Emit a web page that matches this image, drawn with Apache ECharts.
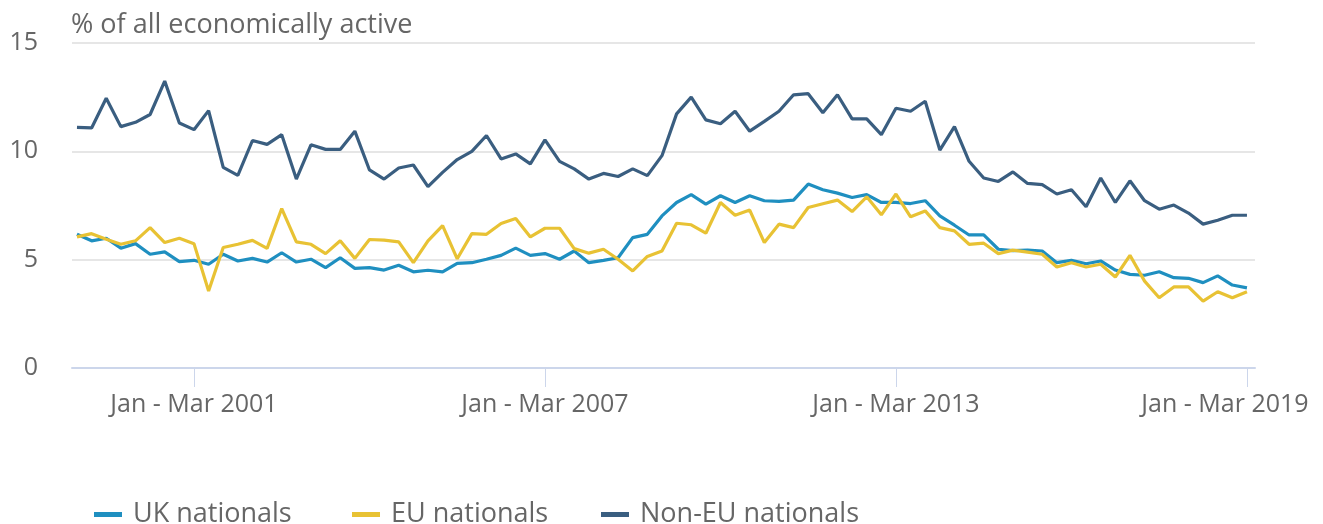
<!DOCTYPE html>
<html>
<head>
<meta charset="utf-8">
<script src="https://cdn.jsdelivr.net/npm/echarts@6/dist/echarts.min.js"></script>
<style>
html,body{margin:0;padding:0;background:#fff;}
#chart{width:1323px;height:524px;}
</style>
</head>
<body>
<div id="chart"></div>
<script>
// Quarterly periods Jan - Mar 1999 ... Jan - Mar 2019 (81 quarters)
const quarterNames = ["Jan - Mar", "Apr - Jun", "Jul - Sep", "Oct - Dec"];
const categories = [];
for (let y = 1999; y <= 2019; y++) {
  for (let q = 0; q < 4; q++) {
    if (y === 2019 && q > 0) break;
    categories.push(quarterNames[q] + " " + y);
  }
}
const tickLabels = ["Jan - Mar 2001", "Jan - Mar 2007", "Jan - Mar 2013", "Jan - Mar 2019"];
const seriesNames = ["UK nationals", "EU nationals", "Non-EU nationals"];

const ukNationals = [
  6.17, 5.87, 5.99, 5.53, 5.74, 5.25, 5.36, 4.91, 4.97, 4.79,
  5.25, 4.94, 5.06, 4.89, 5.32, 4.89, 5.02, 4.63, 5.09, 4.60,
  4.63, 4.52, 4.74, 4.44, 4.51, 4.44, 4.83, 4.86, 5.02, 5.20,
  5.53, 5.20, 5.28, 5.02, 5.40, 4.86, 4.97, 5.09, 6.02, 6.17,
  7.02, 7.64, 8.00, 7.56, 7.95, 7.64, 7.95, 7.72, 7.69, 7.75,
  8.49, 8.23, 8.07, 7.87, 8.00, 7.64, 7.64, 7.59, 7.72, 7.02,
  6.59, 6.14, 6.14, 5.48, 5.42, 5.44, 5.40, 4.86, 4.97, 4.81,
  4.94, 4.52, 4.32, 4.28, 4.44, 4.17, 4.14, 3.94, 4.25, 3.83,
  3.70
];
const euNationals = [
  6.05, 6.20, 5.94, 5.71, 5.87, 6.48, 5.79, 5.99, 5.74, 3.55,
  5.56, 5.71, 5.89, 5.52, 7.36, 5.82, 5.71, 5.28, 5.87, 5.06,
  5.93, 5.90, 5.82, 4.86, 5.87, 6.57, 5.04, 6.20, 6.17, 6.67,
  6.90, 6.05, 6.45, 6.45, 5.51, 5.30, 5.48, 5.02, 4.48, 5.15,
  5.40, 6.68, 6.61, 6.22, 7.64, 7.05, 7.29, 5.79, 6.64, 6.48,
  7.41, 7.58, 7.75, 7.22, 7.90, 7.07, 8.03, 6.98, 7.25, 6.48,
  6.33, 5.71, 5.76, 5.28, 5.44, 5.35, 5.25, 4.66, 4.86, 4.66,
  4.79, 4.20, 5.20, 4.01, 3.24, 3.74, 3.74, 3.09, 3.52, 3.24,
  3.52
];
const nonEuNationals = [
  11.11, 11.08, 12.45, 11.14, 11.34, 11.70, 13.24, 11.31, 11.00, 11.88,
  9.26, 8.89, 10.50, 10.32, 10.77, 8.72, 10.30, 10.09, 10.09, 10.93,
  9.14, 8.72, 9.23, 9.37, 8.37, 9.03, 9.62, 10.00, 10.73, 9.65,
  9.88, 9.42, 10.53, 9.54, 9.19, 8.72, 8.98, 8.84, 9.19, 8.88,
  9.80, 11.73, 12.50, 11.45, 11.27, 11.85, 10.93, 11.38, 11.85, 12.61,
  12.66, 11.78, 12.61, 11.50, 11.50, 10.77, 11.99, 11.85, 12.31, 10.06,
  11.14, 9.54, 8.77, 8.61, 9.05, 8.52, 8.46, 8.03, 8.23, 7.44,
  8.77, 7.64, 8.64, 7.72, 7.33, 7.52, 7.15, 6.64, 6.82, 7.05,
  7.05
];

const tickIdx = tickLabels.map(t => categories.indexOf(t));
const toPairs = arr => arr.map((v, i) => [i, v]);

const FONT = "'Open Sans', 'Noto Sans', sans-serif";
const TXT = '#666666';
const COLORS = ['#1f8fc0', '#e8c234', '#3a5e80'];
const legendLefts = [89, 347, 596];

const legendBase = {
  top: 496,
  itemWidth: 28,
  itemHeight: 5,
  icon: 'rect',
  textStyle: {fontFamily: FONT, fontSize: 27, color: TXT, padding: [0, 0, 0, 6]}
};

const chart = echarts.init(document.getElementById('chart'), null, {renderer: 'canvas'});
chart.setOption({
  animation: false,
  backgroundColor: '#ffffff',
  title: {
    text: '% of all economically active',
    left: 66,
    top: 7,
    textStyle: {fontFamily: FONT, fontSize: 27, fontWeight: 'normal', color: TXT}
  },
  legend: seriesNames.map((n, k) => Object.assign({}, legendBase, {left: legendLefts[k], data: [n]})),
  grid: {left: 72, right: 68, top: 43, bottom: 156, containLabel: false},
  xAxis: {
    type: 'value',
    min: -0.34,
    max: 80.55,
    splitLine: {show: false},
    axisLine: {show: true, lineStyle: {color: '#ccd6eb', width: 2}},
    axisTick: {show: true, customValues: tickIdx, length: 19, lineStyle: {color: '#ccd6eb', width: 1}},
    axisLabel: {
      customValues: tickIdx,
      margin: 24,
      fontFamily: FONT,
      fontSize: 25,
      color: TXT,
      formatter: function (v) {
        const i = Math.round(v);
        const s = categories[i];
        return i === categories.length - 1 ? '{last|' + s + '}' : s;
      },
      rich: {
        last: {fontFamily: FONT, fontSize: 25, color: TXT, padding: [0, 44, 0, 0]}
      }
    }
  },
  yAxis: {
    type: 'value',
    min: 0,
    max: 15,
    interval: 5,
    axisLine: {show: false},
    axisTick: {show: false},
    axisLabel: {fontFamily: FONT, fontSize: 25, color: TXT, margin: 34},
    splitLine: {show: true, lineStyle: {color: '#e6e6e6', width: 2}}
  },
  series: [
    {name: seriesNames[0], type: 'line', data: toPairs(ukNationals), showSymbol: false, symbol: 'none',
     lineStyle: {width: 3.2, color: COLORS[0]}, itemStyle: {color: COLORS[0]}},
    {name: seriesNames[1], type: 'line', data: toPairs(euNationals), showSymbol: false, symbol: 'none',
     lineStyle: {width: 3.2, color: COLORS[1]}, itemStyle: {color: COLORS[1]}},
    {name: seriesNames[2], type: 'line', data: toPairs(nonEuNationals), showSymbol: false, symbol: 'none',
     lineStyle: {width: 3.2, color: COLORS[2]}, itemStyle: {color: COLORS[2]}}
  ]
});
</script>
</body>
</html>
